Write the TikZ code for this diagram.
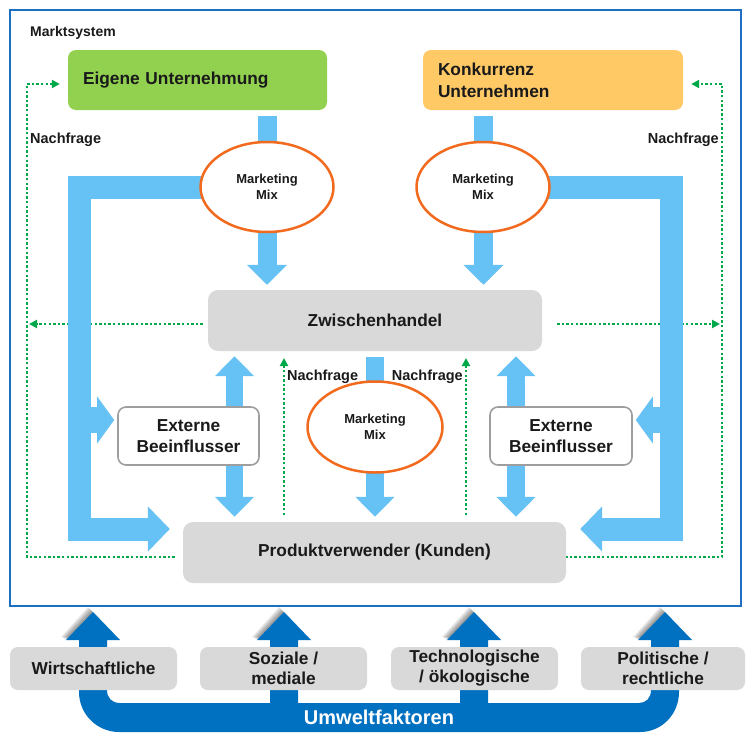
\documentclass[tikz,border=0pt]{standalone}
\usepackage{fontspec}
\setmainfont{Liberation Sans}
\usetikzlibrary{arrows.meta,shapes.geometric}
\definecolor{frameblue}{HTML}{1E6FC3}
\definecolor{darkblue}{HTML}{0070C0}
\definecolor{lightblue}{HTML}{66C2F4}
\definecolor{eugreen}{HTML}{92D050}
\definecolor{kuorange}{HTML}{FFC966}
\definecolor{mmorange}{HTML}{F26A1E}
\definecolor{boxgrey}{HTML}{D9D9D9}
\definecolor{dotgreen}{HTML}{00A84A}
\definecolor{txt}{HTML}{1A1A1A}
\pgfdeclarelayer{background}
\pgfsetlayers{background,main}
\begin{document}
\begin{tikzpicture}[x=1pt,y=-1pt,
  every node/.style={text=txt},
  fnt/.style={font=\fontsize{17.3}{#1}\selectfont\bfseries},
  lbl/.style={inner sep=0pt, font=\fontsize{14.5}{17}\selectfont\bfseries},
  colbox/.style={rounded corners=8pt, inner sep=0pt, inner xsep=15pt, align=left},
  greybox/.style={fill=boxgrey, rounded corners=10pt, inner sep=0pt, align=center},
  extbox/.style={draw=black!38, line width=1.6pt, fill=white, rounded corners=8pt, inner sep=0pt, align=center, fnt=21},
  mmell/.style={ellipse, draw=mmorange, line width=2.5pt, fill=white, inner sep=0pt, align=center, font=\fontsize{13}{16}\selectfont\bfseries},
  toparrow/.style={draw=lightblue, line width=19pt, -{Triangle[width=39pt,length=20pt]}},
  lshape/.style={draw=lightblue, line width=23pt, line join=miter, -{Triangle[width=44pt,length=22pt]}},
  branch/.style={draw=lightblue, line width=26pt, -{Triangle[width=46pt,length=17pt]}},
  dbl/.style={draw=lightblue, line width=17.5pt, {Triangle[width=38pt,length=20pt]}-{Triangle[width=38pt,length=20pt]}},
  downarrow/.style={draw=lightblue, line width=18pt, -{Triangle[width=38pt,length=20pt]}},
  dots/.style={draw=dotgreen, line width=2.6pt, dash pattern=on 2.4pt off 2.2pt, -{Triangle[width=8pt,length=8pt]}},
  shade/.style={fill=black, fill opacity=0.09}
]
\useasboundingbox (0,0) rectangle (746,736);

% frame
\node[draw=frameblue, line width=2.8pt, minimum width=731pt, minimum height=596pt, inner sep=0pt] (frame) at (375.5,308) {};
\node[lbl, anchor=west, font=\fontsize{14}{17}\selectfont\bfseries] (ms) at (30,33) {Marktsystem};

% top companies
\node[colbox, fill=eugreen, minimum width=259pt, minimum height=60pt, text width=229pt, fnt=21] (eu) at (197.5,80) {Eigene Unternehmung};
\node[colbox, fill=kuorange, minimum width=260pt, minimum height=60pt, text width=230pt, fnt=22] (ku) at (553,80) {Konkurrenz\\Unternehmen};

% marketing mix
\node[mmell, minimum width=133pt, minimum height=90pt] (mm1) at (267,187) {Marketing\\Mix};
\node[mmell, minimum width=133pt, minimum height=90pt] (mm2) at (483,187) {Marketing\\Mix};
\node[mmell, minimum width=135pt, minimum height=91pt] (mm3) at (375,427) {Marketing\\Mix};

% grey boxes
\node[greybox, minimum width=334pt, minimum height=61pt, fnt=21] (zw) at (375,320.5) {Zwischenhandel};
\node[greybox, minimum width=383pt, minimum height=61pt, fnt=21] (pv) at (374.5,552.5) {Produktverwender (Kunden)};

% external influencers
\node[extbox, minimum width=141pt, minimum height=58pt] (ex1) at (188.5,436) {Externe\\Beeinflusser};
\node[extbox, minimum width=142pt, minimum height=58pt] (ex2) at (561,436) {Externe\\Beeinflusser};

% labels
\node[lbl, anchor=west] (nf1) at (30,140) {Nachfrage};
\node[lbl, anchor=east] (nf2) at (719,140) {Nachfrage};
\node[lbl, anchor=west] (nf3) at (287,377) {Nachfrage};
\node[lbl, anchor=east] (nf4) at (463,377) {Nachfrage};

% coordinates
\coordinate (dl1) at (27,557);
\coordinate (dl2) at (27,84);
\coordinate (dr1) at (722,557);
\coordinate (dr2) at (722,84);
\coordinate (ll1) at (79,187);
\coordinate (ll2) at (79,529);
\coordinate (lr1) at (671.5,187);
\coordinate (lr2) at (671.5,529);

\begin{pgfonlayer}{background}
  \fill[white] (0,0) rectangle (746,736);
  % green dotted demand lines
  \draw[dots] ([xshift=-8pt]pv.west |- dl1) -- (dl1) -- (dl2) -- ([xshift=-8pt]eu.west |- dl2);
  \draw[dots] ([xshift=-1pt]pv.east |- dr1) -- (dr1) -- (dr2) -- ([xshift=8pt]ku.east |- dr2);
  \draw[dots] ([xshift=-5pt]zw.west |- 0,324) -- ([xshift=2pt]dl1 |- 0,324);
  \draw[dots] ([xshift=15pt]zw.east |- 0,324) -- ([xshift=-2pt]dr1 |- 0,324);
  \draw[dots] (284,515) -- (284,358);
  \draw[dots] (466,515) -- (466,358);

  % light blue flows
  \draw[toparrow] ([yshift=-6pt]eu.south -| mm1.center) -- ([yshift=5pt]zw.north -| mm1.center);
  \draw[toparrow] ([yshift=-6pt]ku.south -| 483.5,0) -- ([yshift=5pt]zw.north -| 483.5,0);
  \draw[lshape] (mm1.center) -- (ll1) -- (ll2) -- ([xshift=-13pt]pv.west |- ll2);
  \draw[lshape] (mm2.center) -- (lr1) -- (lr2) -- ([xshift=14pt]pv.east |- lr2);
  \draw[branch] (79,420) -- ([xshift=-3pt]ex1.west |- 0,420);
  \draw[branch] (671.5,420) -- ([xshift=3pt]ex2.east |- 0,420);
  \draw[dbl] ([yshift=-5pt]zw.south -| 234.5,0) -- ([yshift=5pt]pv.north -| 234.5,0);
  \draw[dbl] ([yshift=-5pt]zw.south -| 516,0) -- ([yshift=5pt]pv.north -| 516,0);
  \draw[downarrow] ([yshift=-6pt]zw.south) -- ([yshift=5pt]pv.north -| zw.south);

  % environment arrow (soft shadow on heads)
  \foreach \cx in {93,284,474,665}{
    \foreach \d in {1,2,3,4,5}{
      \fill[shade] (\cx-27-\d,640-0.6*\d) -- (\cx-\d,612-\d) -- (\cx+27-\d,640-0.6*\d) -- cycle;
    }
  }
  \fill[darkblue] (79,640) -- (66,640) -- (93,612) -- (120,640) -- (107,640) -- (107,690)
    .. controls (107,698) and (112,703) .. (120,703) -- (270,703) -- (270,640) -- (257,640)
    -- (284,612) -- (311,640) -- (298,640) -- (298,703) -- (460,703) -- (460,640) -- (447,640)
    -- (474,612) -- (501,640) -- (488,640) -- (488,703) -- (639,703)
    .. controls (646,703) and (651,698) .. (651,690) -- (651,640) -- (638,640) -- (665,612)
    -- (692,640) -- (679,640) -- (679,692) .. controls (679,714) and (662,732) .. (640,732)
    -- (119,732) .. controls (97,732) and (79,714) .. (79,692) -- cycle;
\end{pgfonlayer}

% environment factors
\node[greybox, rounded corners=8pt, minimum width=167pt, minimum height=43pt, fnt=20] (wi) at (93.5,668.5) {Wirtschaftliche};
\node[greybox, rounded corners=8pt, minimum width=167pt, minimum height=43pt, fnt=20] (so) at (283.5,668.5) {Soziale /\\mediale};
\node[greybox, rounded corners=8pt, minimum width=167pt, minimum height=43pt, fnt=20] (te) at (474.5,668.5) {Technologische\\/ ökologische};
\node[greybox, rounded corners=8pt, minimum width=164pt, minimum height=43pt, fnt=20] (po) at (663,668.5) {Politische /\\rechtliche};
\node[text=white, inner sep=0pt, font=\fontsize{20}{24}\selectfont\bfseries] (uw) at (379,717.5) {Umweltfaktoren};
\end{tikzpicture}
\end{document}
